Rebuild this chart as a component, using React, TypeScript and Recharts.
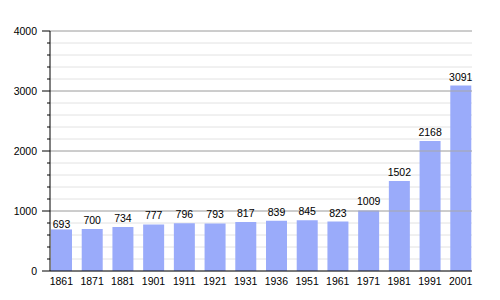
import React from 'react';
import { BarChart, Bar, XAxis, YAxis, CartesianGrid, ReferenceLine, LabelList } from 'recharts';

const years = ['1861', '1871', '1881', '1901', '1911', '1921', '1931', '1936', '1951', '1961', '1971', '1981', '1991', '2001'];
const population = [693, 700, 734, 777, 796, 793, 817, 839, 845, 823, 1009, 1502, 2168, 3091];
const yTicks = [0, 200, 400, 600, 800, 1000, 1200, 1400, 1600, 1800, 2000, 2200, 2400, 2600, 2800, 3000, 3200, 3400, 3600, 3800, 4000];
const majorTicks = [1000, 2000, 3000, 4000];

const data = years.map((year, i) => ({ year, value: population[i] }));

const FONT = '"Liberation Sans", Arial, sans-serif';

function YTick(props: any) {
  const { x, y, payload } = props;
  const major = payload.value % 1000 === 0;
  return (
    <g>
      <line x1={major ? x - 8 : x - 3} x2={x} y1={y} y2={y} stroke="#000" strokeWidth={1} />
      {major && (
        <text x={x - 13} y={y} dy={4} textAnchor="end" fontSize={10.5} fontFamily={FONT} fill="#000">
          {payload.value}
        </text>
      )}
    </g>
  );
}

// first label sits lower in the original (it's tucked against the bar top)
function ValueLabel(props: any) {
  const { x, y, width, value, index } = props;
  const gap = index === 0 ? 1 : 5;
  return (
    <text x={x + width / 2} y={y - gap} textAnchor="middle" fontSize={10.5} fontFamily={FONT} fill="#000">
      {value}
    </text>
  );
}

export default function App() {
  return (
    <div style={{ position: 'absolute', left: 0, top: 0, width: 500, height: 300, background: '#fff' }}>
      <BarChart width={500} height={300} data={data} margin={{ top: 31, right: 28, bottom: 0, left: 0 }}>
        <CartesianGrid vertical={false} stroke="#e2e2e2" />
        {majorTicks.map((t) => (
          <ReferenceLine key={t} y={t} stroke="#a8a8a8" />
        ))}
        <XAxis
          dataKey="year"
          height={29}
          padding={{ left: -4, right: -4 }}
          tickLine={false}
          axisLine={{ stroke: '#000' }}
          tick={{ fontSize: 10.5, fontFamily: FONT, fill: '#000' }}
          tickMargin={1}
          interval={0}
        />
        <YAxis
          width={50}
          domain={[0, 4000]}
          ticks={yTicks}
          interval={0}
          tickSize={0}
          tickMargin={0}
          tickLine={false}
          axisLine={{ stroke: '#000' }}
          tick={<YTick />}
        />
        <Bar dataKey="value" fill="#9aabfa" barSize={21} isAnimationActive={false}>
          <LabelList dataKey="value" content={<ValueLabel />} />
        </Bar>
      </BarChart>
    </div>
  );
}
